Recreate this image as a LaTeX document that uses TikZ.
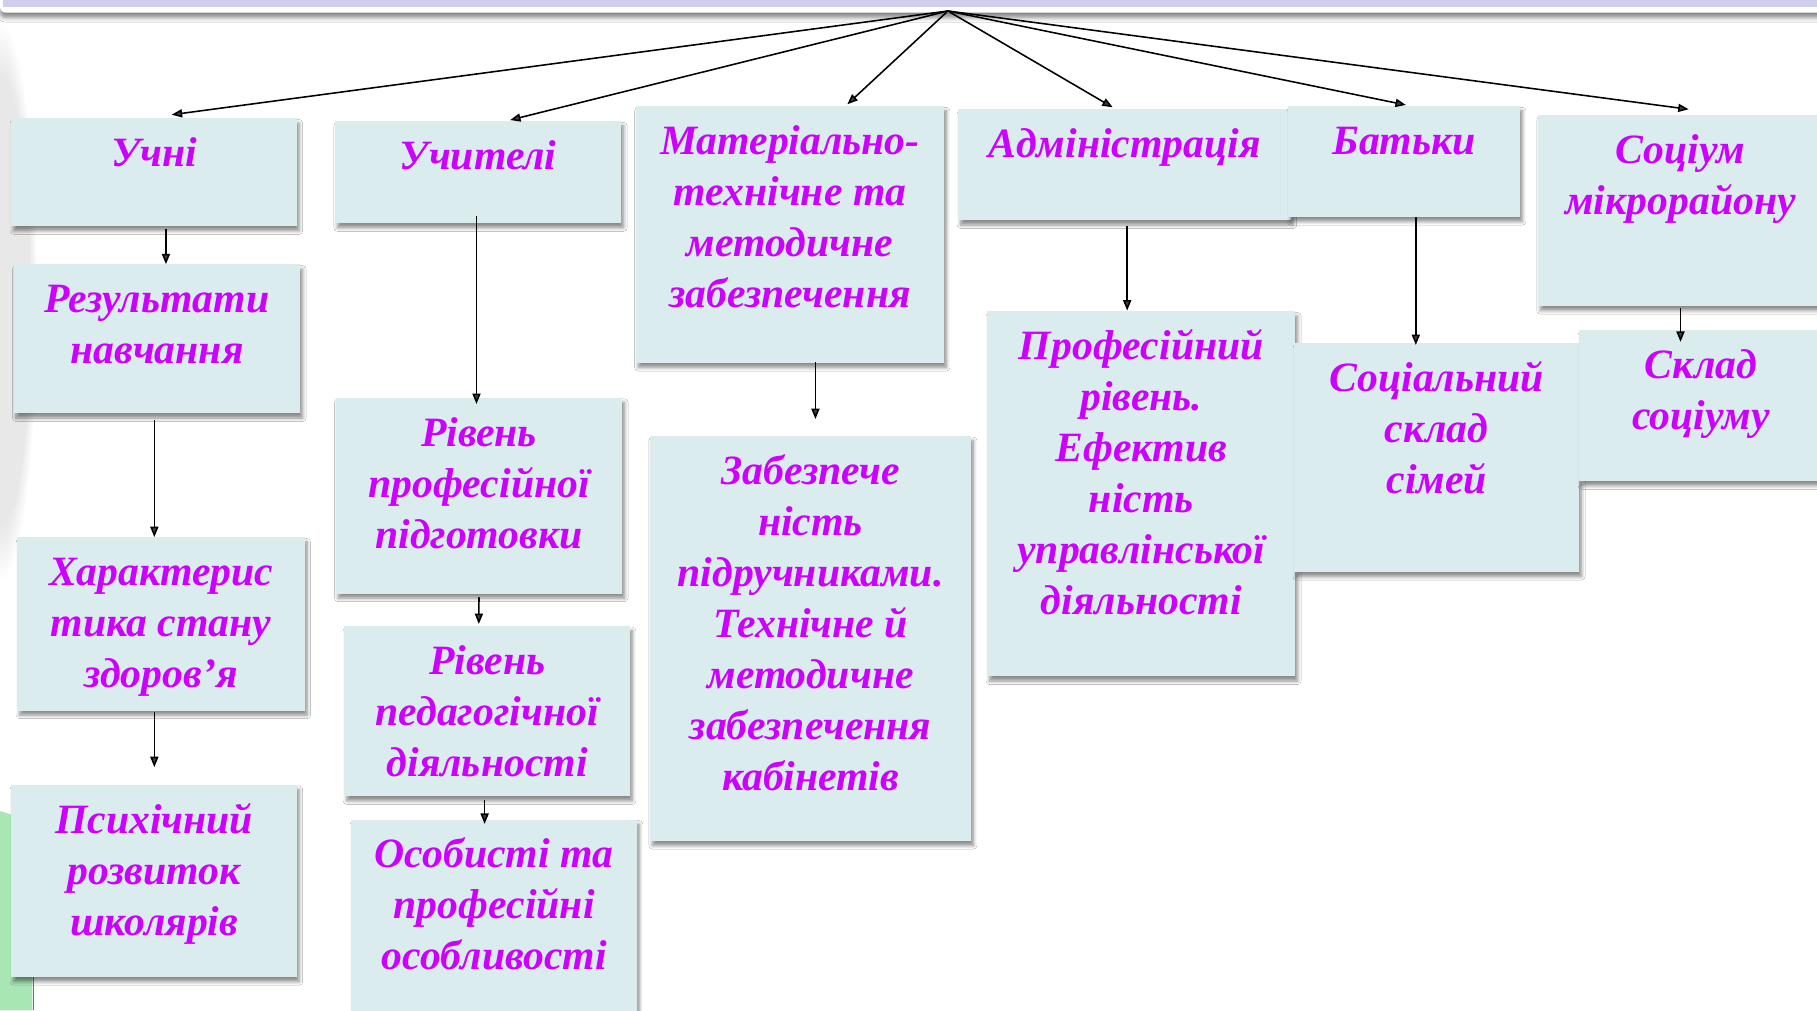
\documentclass[tikz,border=0pt]{standalone}
\usepackage{fontspec}
\setmainfont{Liberation Serif}
\usetikzlibrary{arrows.meta,shadows.blur,fadings}
\definecolor{blkfill}{RGB}{218,236,238}
\definecolor{blktext}{RGB}{204,0,255}
\definecolor{barfill}{RGB}{206,206,238}
\definecolor{leafgreen}{RGB}{168,230,180}
\def\blk#1#2#3{\parbox[c][#2pt][t]{#1pt}{\centering\vspace*{11pt}\strut #3}}
\tikzset{
	blkbox/.style={fill=blkfill, inner sep=0pt, anchor=north west, text=blktext,
		font=\fontsize{36}{44}\selectfont\bfseries\itshape,
		blur shadow={shadow xshift=2pt, shadow yshift=-4pt, shadow opacity=45, shadow blur radius=3pt, shadow blur steps=6}},
	lnk/.style={line width=1.35pt, -{Triangle[length=9pt,width=7pt]}}
}

\begin{document}
\begin{tikzpicture}[x=1pt,y=-1pt]
			%%%%% START %%%%%
			
			\clip (0,0) rectangle (1568,872);
			\fill[white] (0,0) rectangle (1568,872);
			\fill[black!9, path fading=circle with fuzzy edge 20 percent] (0,260) ellipse (32 and 240);
			\fill[leafgreen] (0,700) -- (20,706) -- (28,712) -- (28,872) -- (0,872) -- cycle;
			\draw[line width=1.5pt, color=black!55] (29,705) -- (29,872);
			
			\fill[white, rounded corners=5pt, blur shadow={shadow xshift=0pt, shadow yshift=-4pt, shadow opacity=50, shadow blur radius=4pt}] (0,-30) rectangle (1600,11);
			\fill[barfill] (2.6,-30) rectangle (1600,5.8);
			\coordinate (apex) at (818,9.5);
			
			\node[blkbox] (uchni) at (9.5,102) {\blk{246.5}{93}{Учні}};
			\node[blkbox] (vchyteli) at (289,104.4) {\blk{247}{88}{Учителі}};
			\node[blkbox] (mat) at (548.5,91.5) {\blk{266}{221.5}{Матеріально-\\технічне та\\методичне\\забезпечення}};
			\node[blkbox] (admin) at (826.8,94) {\blk{287}{96}{Адміністрація}};
			\node[blkbox] (batky) at (1111.6,91.5) {\blk{200}{95.5}{Батьки}};
			\node[blkbox] (sotsium) at (1327,99.3) {\blk{246}{164.5}{Соціум\\мікрорайону}};
			
			\node[blkbox] (rezult) at (11.6,228) {\blk{247.4}{128.6}{Результати\\навчання}};
			\node[blkbox] (kharakt) at (14.8,463.5) {\blk{248}{149.5}{Характерис\\тика стану\\здоров’я}};
			\node[blkbox] (psykh) at (9.5,677) {\blk{246.5}{166}{Психічний\\розвиток\\школярів}};
			
			\node[blkbox] (rivprof) at (289.5,343) {\blk{247.3}{169}{Рівень\\професійної\\підготовки}};
			\node[blkbox] (rivped) at (297,540) {\blk{246.5}{147}{Рівень\\педагогічної\\діяльності}};
			\node[blkbox] (osob) at (303,707) {\blk{246.5}{200}{Особисті та\\професійні\\особливості}};
			
			\node[blkbox] (zabezp) at (560.8,376) {\blk{277}{349.5}{Забезпече\\ність\\підручниками.\\Технічне й\\методичне\\забезпечення\\кабінетів}};
			\node[blkbox] (profriv) at (851.8,268.5) {\blk{265.8}{315}{Професійний\\рівень.\\Ефектив\\ність\\управлінської\\діяльності}};
			\node[blkbox] (sotsskl) at (1116.6,296) {\blk{246}{197.5}{Соціальний\\склад\\сімей}};
			\node[blkbox] (skladsots) at (1362.6,285) {\blk{210}{130}{Склад\\соціуму}};
			
			\draw[lnk] (apex) -- ([xshift=15.25pt,yshift=3pt]uchni.north);
			\draw[lnk] (apex) -- ([xshift=27.5pt,yshift=0.8pt]vchyteli.north);
			\draw[lnk] (apex) -- ([xshift=49.5pt,yshift=1.5pt]mat.north);
			\draw[lnk] (apex) -- ([xshift=-10.3pt,yshift=1.4pt]admin.north);
			\draw[lnk] (apex) -- ([xshift=1.4pt,yshift=0.9pt]batky.north);
			\draw[lnk] (apex) -- ([xshift=7pt,yshift=5pt]sotsium.north);
			
			\draw[lnk] ([xshift=10.25pt,yshift=-2pt]uchni.south) -- ([xshift=7.7pt]rezult.north);
			\draw[lnk] ([xshift=-2.3pt,yshift=-5.4pt]rezult.south) -- ([xshift=-5.8pt]kharakt.north);
			\draw[lnk] ([xshift=-5.8pt,yshift=-1pt]kharakt.south) -- ([xshift=0.25pt,yshift=15pt]psykh.north);
			\draw[lnk] ([xshift=-1.5pt,yshift=6pt]vchyteli.south) -- ([xshift=-2.15pt,yshift=-5.6pt]rivprof.north);
			\draw[lnk] ([yshift=-3pt]rivprof.south) -- ([xshift=-7.25pt,yshift=1.5pt]rivped.north);
			\draw[lnk] ([xshift=-2.25pt,yshift=-3pt]rivped.south) -- ([xshift=-8.25pt,yshift=-4pt]osob.north);
			\draw[lnk] ([xshift=22pt,yshift=1pt]mat.south) -- ([xshift=4.2pt,yshift=14.4pt]zabezp.north);
			\draw[lnk] ([xshift=2.2pt,yshift=-5pt]admin.south) -- ([xshift=-12.2pt,yshift=0.5pt]profriv.north);
			\draw[lnk] ([xshift=10pt]batky.south) -- ([xshift=-18pt,yshift=-1.7pt]sotsskl.north);
			\draw[lnk] ([yshift=-2pt]sotsium.south) -- ([xshift=-17.6pt,yshift=-10pt]skladsots.north);
			
			%%%%% END %%%%%
\end{tikzpicture}
\end{document}
